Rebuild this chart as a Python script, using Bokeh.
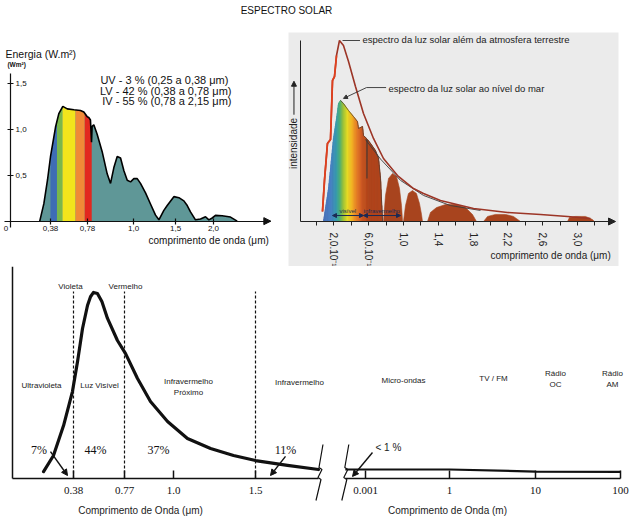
import numpy as np
from bokeh.plotting import figure
from bokeh.layouts import column, row
from bokeh.models import Range1d, LinearAxis, FixedTicker, Arrow, NormalHead
from bokeh.core.properties import value
from bokeh.embed import file_html
from bokeh.resources import INLINE

SANS = "Liberation Sans"
SERIF = "Liberation Serif"

# ====================== DATA ======================
TITLE = "ESPECTRO SOLAR"

# ---- top-left: energy reaching the ground (W.m2 per um) ----
TL_LAM = [0.278, 0.317, 0.352, 0.380, 0.434, 0.470, 0.513, 0.561, 0.633, 0.704, 0.740,
          0.777, 0.786, 0.794, 0.799, 0.802, 0.810, 0.818, 0.826, 0.850, 0.874, 0.890,
          0.906, 0.922, 0.938, 0.954, 0.970, 0.986, 1.004, 1.044, 1.083, 1.143, 1.202,
          1.262, 1.302, 1.361, 1.401, 1.480, 1.544, 1.610, 1.654, 1.697, 1.763, 1.829,
          1.895, 1.939, 1.983, 2.026, 2.114, 2.224, 2.312]
TL_E = [0.0, 0.19, 0.45, 0.70, 1.02, 1.169, 1.248, 1.220, 1.210, 1.203, 1.186,
        1.134, 1.127, 1.099, 0.858, 1.031, 1.048, 0.996, 0.944, 0.755, 0.514, 0.410,
        0.582, 0.703, 0.686, 0.548, 0.445, 0.427, 0.462, 0.462, 0.410, 0.307, 0.186,
        0.065, 0.014, 0.117, 0.169, 0.266, 0.255, 0.220, 0.169, 0.100, 0.014, 0.024,
        0.048, 0.014, 0.034, 0.062, 0.058, 0.044, 0.0]
TL_XTICKS = [0.38, 0.78, 1.0, 1.5, 2.0]
TL_XLABELS = ["0,38", "0,78", "1,0", "1,5", "2,0"]
TL_YTICKS = [0.5, 1.0, 1.5]
TL_YLABELS = ["0,5", "1,0", "1,5"]
TL_BAND_EDGES = [0.38, 0.45, 0.51, 0.65, 0.75, 0.80]
TL_LEGEND = ["UV - 3 %  (0,25 a 0,38 μm)",
             "LV - 42 % (0,38 a 0,78 μm)",
             "IV - 55 % (0,78 a 2,15 μm)"]

# ---- top-right: intensity outside atmosphere / at sea level ----
TR_SPACE_LAM = [0.069, 0.092, 0.126, 0.161, 0.184, 0.207, 0.230, 0.264, 0.310, 0.368,
                0.448, 0.540, 0.655, 0.770, 0.931, 1.115, 1.230, 1.425, 1.805, 2.195,
                2.575, 2.885, 3.149]
TR_SPACE_I = [0.055, 0.227, 0.431, 0.453, 0.779, 0.801, 0.917, 1.0, 0.972, 0.884,
              0.746, 0.597, 0.459, 0.348, 0.254, 0.182, 0.155, 0.116, 0.072, 0.050,
              0.039, 0.028, 0.017]
TR_ENV_LAM = [0.563, 0.736, 0.966, 1.230, 1.540, 1.885]
TR_ENV_I = [0.453, 0.345, 0.227, 0.144, 0.088, 0.061]
TR_SEA_LAM = [0.080, 0.138, 0.161, 0.195, 0.230, 0.253, 0.276, 0.310, 0.368, 0.425,
              0.471, 0.483, 0.529, 0.540, 0.575, 0.580, 0.586, 0.621, 0.678, 0.713,
              0.736, 0.759]
TR_SEA_I = [0.0, 0.182, 0.293, 0.459, 0.569, 0.652, 0.669, 0.652, 0.613, 0.580,
            0.552, 0.514, 0.525, 0.475, 0.459, 0.238, 0.453, 0.431, 0.392, 0.348,
            0.238, 0.0]
TR_LOBE2_LAM = [0.770, 0.793, 0.828, 0.874, 0.920, 0.954, 0.977, 0.989]
TR_LOBE2_I = [0.0, 0.144, 0.238, 0.265, 0.249, 0.182, 0.088, 0.0]
TR_LOBE3_LAM = [1.000, 1.023, 1.057, 1.103, 1.149, 1.184, 1.207, 1.218]
TR_LOBE3_I = [0.0, 0.088, 0.155, 0.171, 0.155, 0.099, 0.039, 0.0]
TR_LOBE4_LAM = [1.276, 1.310, 1.379, 1.483, 1.598, 1.713, 1.793, 1.839]
TR_LOBE4_I = [0.0, 0.050, 0.077, 0.094, 0.094, 0.077, 0.039, 0.0]
TR_LOBE5_LAM = [1.920, 1.966, 2.057, 2.172, 2.264, 2.345]
TR_LOBE5_I = [0.0, 0.028, 0.039, 0.039, 0.028, 0.0]
TR_LOBE6_LAM = [2.885, 2.908, 2.977, 3.092, 3.172, 3.195]
TR_LOBE6_I = [0.0, 0.022, 0.028, 0.028, 0.011, 0.0]
TR_XTICKS = [0.2, 0.6, 1.0, 1.4, 1.8, 2.2, 2.6, 3.0]
TR_XLABELS = ["2,0.10⁻¹", "6,0.10⁻¹", "1,0", "1,4", "1,8", "2,2", "2,6", "3,0"]
TR_XMINOR = [0.0, 0.4, 0.8, 1.2, 1.6, 2.0, 2.4, 2.8, 3.2]
TR_VIS_IR = [0.184, 0.540, 0.966]
TR_NOTES = ["espectro da luz solar além da atmosfera terrestre",
            "espectro da luz solar ao nível do mar"]

# ---- bottom: relative intensity, two wavelength scales ----
BT_LAM_UM = [0.151, 0.227, 0.304, 0.372, 0.411, 0.449, 0.487, 0.510, 0.533, 0.563,
             0.597, 0.640, 0.716, 0.775, 0.831, 0.892, 0.972, 1.085, 1.226, 1.366,
             1.500, 1.695, 1.884]
BT_I_UM = [0.037, 0.123, 0.283, 0.465, 0.626, 0.802, 0.925, 0.972, 0.995, 0.989,
           0.946, 0.856, 0.738, 0.668, 0.535, 0.412, 0.305, 0.214, 0.160, 0.123,
           0.096, 0.070, 0.048]
BT_LAM_M = [1.9e-4, 1e-3, 1.0, 10.0, 100.0]
BT_I_M = [0.048, 0.048, 0.048, 0.037, 0.035]
BT_BOUNDS_UM = [0.38, 0.77, 1.5]
BT_XTICKS_UM = [0.38, 0.77, 1.0, 1.5]
BT_XLABELS_UM = ["0.38", "0.77", "1.0", "1.5"]
BT_XTICKS_M = [0.001, 1.0, 10.0, 100.0]
BT_XLABELS_M = ["0.001", "1", "10", "100"]
BT_SHARES = ["7%", "44%", "37%", "11%", "< 1 %"]

# hand-drawn (non-uniform) axes: wavelength -> position along the axis
TL_SCALE = ([0.0, 0.38, 0.78, 1.0, 1.5, 2.0], [0.0, 0.394, 0.759, 1.212, 1.626, 2.0])
BT_SCALE_UM = ([0.38, 0.77, 1.0, 1.5], [0.61, 1.12, 1.61, 2.43])
BT_SCALE_M = ([-3.0, 0.0, 1.0, 2.0], [3.53, 4.37, 5.23, 6.08])


def warp(v, knots):
    kx, ky = np.asarray(knots[0], float), np.asarray(knots[1], float)
    v = np.atleast_1d(np.asarray(v, float))
    out = np.interp(v, kx, ky)
    lo, hi = v < kx[0], v > kx[-1]
    out[lo] = ky[0] + (v[lo] - kx[0]) * (ky[1] - ky[0]) / (kx[1] - kx[0])
    out[hi] = ky[-1] + (v[hi] - kx[-1]) * (ky[-1] - ky[-2]) / (kx[-1] - kx[-2])
    return out


def blank(w, h, xr, yr, **kw):
    p = figure(width=w, height=h, x_range=Range1d(*xr), y_range=Range1d(*yr),
               toolbar_location=None, output_backend="svg", title=None,
               x_axis_location=None, y_axis_location=None, min_border=0,
               outline_line_color=None, **kw)
    p.xgrid.grid_line_color = None
    p.ygrid.grid_line_color = None
    p.background_fill_color = "white"
    p.border_fill_color = "white"
    return p


def txt(p, x, y, s, size, font=SANS, align="left", baseline="middle",
        color="#111111", angle=0.0, style="normal"):
    p.text(x=[x], y=[y], text=[s], text_font=value(font), text_font_size=value(size),
           text_align=align, text_baseline=baseline, text_color=color, angle=angle,
           text_font_style=style)


def style_axis(ax, font, size, color="#111111", lw=1.2, tin=0, tout=0, standoff=3):
    ax.axis_line_color = color
    ax.axis_line_width = lw
    ax.major_tick_line_color = color
    ax.major_tick_line_width = lw
    ax.major_tick_in = tin
    ax.major_tick_out = tout
    ax.minor_tick_line_color = None
    ax.major_label_text_font = font
    ax.major_label_text_font_size = size
    ax.major_label_text_color = color
    ax.major_label_standoff = standoff


def fixed_axis(loc, ticks, labels, bounds):
    ticks = [round(float(t), 4) for t in ticks]
    ax = LinearAxis(fixed_location=loc, bounds=bounds, ticker=FixedTicker(ticks=ticks))
    ax.major_label_overrides = {t: l for t, l in zip(ticks, labels)}
    return ax


# ====================== TITLE ======================
p0 = blank(634, 20, (0, 634), (0, 20))
txt(p0, 286, 10, TITLE, "10px", align="center")

# ====================== TOP-LEFT ======================
p1 = blank(285, 246, (-0.0985, 2.7094), (-0.4933, 2.0507))
TEAL = "#5f9797"
BAND_COLORS = ["#3e6db5", "#79b74c", "#f2e51c", "#f08a37", "#e2281f"]
p1.varea(x=warp(TL_LAM, TL_SCALE), y1=0, y2=TL_E, fill_color=TEAL)
for i, c in enumerate(BAND_COLORS):
    a, b = TL_BAND_EDGES[i], TL_BAND_EDGES[i + 1]
    lb = [a] + [l for l in TL_LAM if a < l < b] + [b]
    eb = np.interp(lb, TL_LAM, TL_E)
    p1.varea(x=warp(lb, TL_SCALE), y1=0, y2=eb, fill_color=c)
p1.line(warp(TL_LAM, TL_SCALE), TL_E, line_color="black", line_width=1.6)

ax = fixed_axis(0, warp(TL_XTICKS, TL_SCALE), TL_XLABELS, (-0.06, 2.56))
style_axis(ax, SANS, "8px", tin=3, tout=3, standoff=2)
p1.add_layout(ax, "below")
ay = fixed_axis(0, TL_YTICKS, TL_YLABELS, (-0.07, 1.6))
style_axis(ay, SANS, "8px", tin=3, tout=3, standoff=2)
p1.add_layout(ay, "right")
p1.add_layout(Arrow(end=NormalHead(size=7, fill_color="#111111", line_color="#111111"),
                    x_start=2.50, y_start=0, x_end=2.565, y_end=0,
                    line_color="#111111", line_width=1.2))
txt(p1, -0.044, -0.08, "0", "8px", align="center")
txt(p1, -0.049, 1.818, "Energia (W.m²)", "10.5px")
txt(p1, -0.030, 1.70, "(Wm²)", "6.5px", style="bold")
for s, y in zip(TL_LEGEND, [1.533, 1.420, 1.306]):
    txt(p1, 2.177, y, s, "11px", align="right")
txt(p1, 1.36, -0.214, "comprimento de onda (μm)", "10px")

# ====================== TOP-RIGHT ======================
p2 = blank(349, 246, (-0.3218, 3.4713), (-0.2486, 1.0442),
           min_border_left=3, min_border_right=16, min_border_top=12, min_border_bottom=0)
p2.background_fill_color = "#ebebeb"

GRAD_LAM = [0.08, 0.17, 0.23, 0.27, 0.31, 0.36, 0.41, 0.46, 0.52, 0.60]
GRAD_COL = ["#4a6fb8", "#4a82c4", "#3a9cb0", "#4aae7a", "#9cc43c", "#e8dc26",
            "#f2b426", "#e8842a", "#d05c26", "#b0461f"]
_rgb = np.array([[int(h[k:k + 2], 16) for k in (1, 3, 5)] for h in GRAD_COL], float)


def grad(l):
    r, g, b = (np.interp(l, GRAD_LAM, _rgb[:, k]) for k in range(3))
    return "#%02x%02x%02x" % (int(r), int(g), int(b))


lam_d = np.union1d(np.linspace(TR_SEA_LAM[0], TR_SEA_LAM[-1], 160), TR_SEA_LAM)
i_d = np.interp(lam_d, TR_SEA_LAM, TR_SEA_I)
xs, ys, cols = [], [], []
for k in range(len(lam_d) - 1):
    xs.append([lam_d[k], lam_d[k], lam_d[k + 1], lam_d[k + 1]])
    ys.append([0, i_d[k], i_d[k + 1], 0])
    cols.append(grad(0.5 * (lam_d[k] + lam_d[k + 1])))
p2.patches(xs=xs, ys=ys, fill_color=cols, line_color=cols, line_width=0.6)

BROWN = "#a8441e"
for lx, ly in [(TR_LOBE2_LAM, TR_LOBE2_I), (TR_LOBE3_LAM, TR_LOBE3_I),
               (TR_LOBE4_LAM, TR_LOBE4_I), (TR_LOBE5_LAM, TR_LOBE5_I),
               (TR_LOBE6_LAM, TR_LOBE6_I)]:
    p2.patch(lx, ly, fill_color=BROWN, line_color=BROWN, line_width=0.6)

top = [k for k, l in enumerate(TR_SEA_LAM) if l >= 0.26]
p2.line([TR_SEA_LAM[k] for k in top], [TR_SEA_I[k] for k in top],
        line_color="#4a3a30", line_width=0.7)
p2.line(TR_ENV_LAM, TR_ENV_I, line_color="#3b3b3b", line_width=0.9)
p2.line(TR_SPACE_LAM, TR_SPACE_I, line_color="#9c3526", line_width=1.6)
rise = [k for k, l in enumerate(TR_SPACE_LAM) if l <= 0.23]
p2.line([TR_SPACE_LAM[k] for k in rise], [TR_SPACE_I[k] for k in rise],
        line_color="#e0401e", line_width=1.8)

bx = fixed_axis(0, TR_XTICKS, TR_XLABELS, (-0.184, 3.40))
style_axis(bx, SANS, "10px", color="#222222", lw=1.0, tin=0, tout=4, standoff=7)
bx.ticker.minor_ticks = TR_XMINOR
bx.minor_tick_line_color = "#222222"
bx.minor_tick_in = 0
bx.minor_tick_out = 4
bx.major_label_orientation = "vertical"
p2.add_layout(bx, "below")
by = LinearAxis(fixed_location=-0.184, bounds=(0, 1.0), ticker=FixedTicker(ticks=[]))
style_axis(by, SANS, "8px", color="#222222", lw=1.0)
p2.add_layout(by, "left")
p2.add_layout(Arrow(end=NormalHead(size=7, fill_color="#222222", line_color="#222222"),
                    x_start=3.38, y_start=0, x_end=3.437, y_end=0,
                    line_color="#222222", line_width=1.0))

txt(p2, -0.259, 0.431, "intensidade", "10px", align="center", angle=np.pi / 2,
    color="#222222")
p2.add_layout(Arrow(end=NormalHead(size=5, fill_color="#222222", line_color="#222222"),
                    x_start=-0.259, y_start=0.59, x_end=-0.259, y_end=0.775,
                    line_color="#222222", line_width=1.0))
p2.line([0.299, 0.50], [1.0, 1.0], line_color="#333333", line_width=0.9)
txt(p2, 0.529, 1.006, TR_NOTES[0], "9.5px", color="#222222")
p2.line([0.575, 0.80], [0.740, 0.740], line_color="#333333", line_width=0.9)
p2.add_layout(Arrow(end=NormalHead(size=4, fill_color="#333333", line_color="#333333"),
                    x_start=0.575, y_start=0.740, x_end=0.31, y_end=0.68,
                    line_color="#333333", line_width=0.9))
txt(p2, 0.828, 0.735, TR_NOTES[1], "9.5px", color="#222222")
txt(p2, 2.0, -0.188, "comprimento de onda (μm)", "10px", color="#222222")
for a, b in zip(TR_VIS_IR[:-1], TR_VIS_IR[1:]):
    p2.add_layout(Arrow(start=NormalHead(size=4, fill_color="#1c2a55", line_color="#1c2a55"),
                        end=NormalHead(size=4, fill_color="#1c2a55", line_color="#1c2a55"),
                        x_start=a, y_start=0.033, x_end=b, y_end=0.033,
                        line_color="#1c2a55", line_width=1.0))
txt(p2, 0.36, 0.06, "visível", "6px", align="center", color="#1c2a55")
txt(p2, 0.75, 0.06, "infravermelho", "6px", align="center", color="#1c2a55")

# ====================== BOTTOM ======================
p3 = blank(634, 256, (-0.12, 6.22), (-0.2353, 1.1337))
INK = "#111111"
u_left = warp(BT_LAM_UM, BT_SCALE_UM)
u_right = warp(np.log10(BT_LAM_M), BT_SCALE_M)
u_bl, u_br = float(u_left[-1]), float(u_right[0])

p3.line(u_left, BT_I_UM, line_color=INK, line_width=3.2, line_cap="round",
        line_join="round")
p3.line(u_right, BT_I_M, line_color=INK, line_width=2.2)
ub = warp(BT_BOUNDS_UM, BT_SCALE_UM)
p3.segment(x0=ub, y0=0, x1=ub, y1=1.0, line_color=INK, line_width=1.2, line_dash="3 2")

xa = fixed_axis(0, warp(BT_XTICKS_UM, BT_SCALE_UM), BT_XLABELS_UM, (0, u_bl))
style_axis(xa, SERIF, "11px", color=INK, lw=1.5, tin=8, tout=0, standoff=9)
p3.add_layout(xa, "below")
xb = fixed_axis(0, warp(np.log10(BT_XTICKS_M), BT_SCALE_M), BT_XLABELS_M, (u_br, 6.08))
style_axis(xb, SERIF, "11px", color=INK, lw=1.5, tin=8, tout=0, standoff=9)
p3.add_layout(xb, "below")
ya3 = LinearAxis(fixed_location=0, bounds=(0, 1.14), ticker=FixedTicker(ticks=[]))
style_axis(ya3, SANS, "8px", color=INK, lw=1.5)
p3.add_layout(ya3, "left")

# axis-break marks (zig-zag), shape in px relative to the break
ZZ_DX = [4, 0, 3, -1, 2, -3]
ZZ_DY = [-34, -11, -9, -1, 1, 22]
for ubrk in (u_bl + 0.005, u_br - 0.005):
    p3.line([ubrk + d / 100 for d in ZZ_DX], [-d / 187 for d in ZZ_DY],
            line_color=INK, line_width=1.2)

txt(p3, 1.28, -0.171, "Comprimento de Onda (μm)", "10px", color="#222222", align="center")
txt(p3, 4.35, -0.171, "Comprimento de Onda (m)", "10px", color="#222222", align="center")

REG = [("Violeta", 0.58, 1.027), ("Vermelho", 1.13, 1.027),
       ("Ultravioleta", 0.29, 0.497), ("Luz Visível", 0.87, 0.497),
       ("Infravermelho", 1.76, 0.519), ("Próximo", 1.76, 0.460),
       ("Infravermelho", 2.87, 0.513), ("Micro-ondas", 3.91, 0.524),
       ("TV / FM", 4.81, 0.535), ("Rádio", 5.43, 0.561), ("OC", 5.43, 0.503),
       ("Rádio", 6.00, 0.561), ("AM", 6.00, 0.503)]
for s, x, y in REG:
    txt(p3, x, y, s, "8px", align="center", color="#222222")

for s, x in zip(BT_SHARES[:4], [0.265, 0.83, 1.46, 2.73]):
    txt(p3, x, 0.150, s, "12px", font=SERIF, align="center")
txt(p3, 3.63, 0.166, BT_SHARES[4], "10px", color="#222222")
for x0, y0, x1, y1 in [(0.38, 0.144, 0.55, 0.016), (2.73, 0.118, 2.58, 0.016),
                       (3.60, 0.139, 3.40, 0.011)]:
    p3.add_layout(Arrow(end=NormalHead(size=6, fill_color=INK, line_color=INK),
                        x_start=x0, y_start=y0, x_end=x1, y_end=y1,
                        line_color=INK, line_width=1.4))

layout = column(p0, row(p1, p2), p3)
open("out.html", "w").write(file_html(layout, INLINE))
